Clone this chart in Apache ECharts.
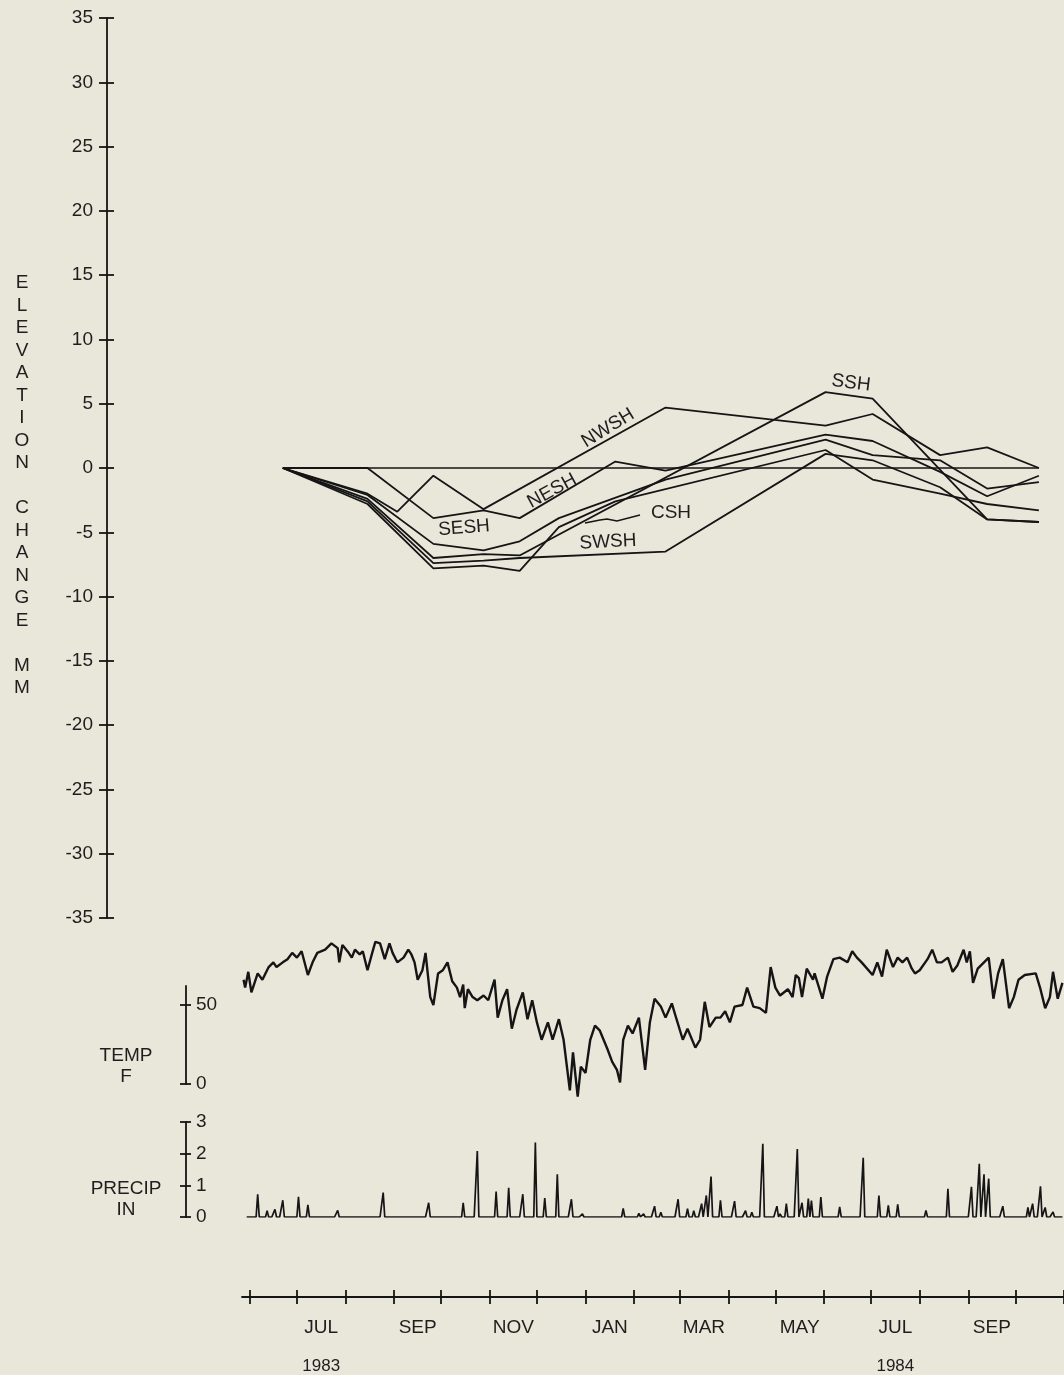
<!DOCTYPE html>
<html>
<head>
<meta charset="utf-8">
<title>Elevation change, temperature and precipitation 1983-1984</title>
<script src="https://cdn.jsdelivr.net/npm/echarts@6/dist/echarts.min.js"></script>
<style>
  html, body { margin: 0; padding: 0; background: #e9e6da; }
  #chart { width: 1064px; height: 1375px; }
  #err { position: absolute; left: 300px; top: 40px; width: 700px; font: 11px monospace; color: #a00; white-space: pre-wrap; }
</style>
</head>
<body>
<div id="chart"></div>
<div id="err"></div>
<script>
  // ---- data -------------------------------------------------------------
  // survey dates of the elevation profiles (mm change from first survey)
  var surveyDates = ['1983-06-22', '1983-08-15', '1983-09-03', '1983-09-26', '1983-10-28', '1983-11-20',
    '1983-12-15', '1984-01-20', '1984-02-21', '1984-06-02', '1984-07-02', '1984-08-14', '1984-09-13', '1984-10-16'];
  var nwsh = [0, -2.0, -3.4, -0.6, -3.2, null, null, null, 4.7, 3.3, 4.2, 1.0, 1.6, 0];
  var nesh = [0, 0, null, -3.9, -3.3, -3.9, null, 0.5, -0.2, 2.6, 2.1, -0.3, -2.2, -0.6];
  var sesh = [0, -2.1, null, -5.9, -6.4, -5.7, -3.9, null, -0.9, 2.2, 1.0, 0.6, -1.6, -1.1];
  var ssh = [0, -2.4, null, -7.0, -6.7, -6.8, null, null, null, 5.9, 5.4, null, -4.0, -4.2];
  var swsh = [0, -2.6, null, -7.4, -7.2, -7.0, null, null, -6.5, 1.1, 0.6, -1.5, -4.0, -4.2];
  var csh = [0, -2.8, null, -7.8, -7.6, -8.0, -4.6, -2.6, null, 1.4, -0.9, -2.0, -2.8, -3.3];

  // daily air temperature, days counted from 1983-06-01
  var tempDay = [-4, -3, -1, 1, 5, 8, 12, 15, 17, 21, 24, 27, 30, 33, 37, 40, 43, 48, 52, 56, 57, 59, 63, 65, 67, 70, 72,
    75, 78, 80, 83, 86, 89, 91, 94, 98, 101, 103, 105, 107, 110, 112, 115, 117, 120, 123, 126, 129, 132, 134, 136, 137,
    139, 142, 145, 149, 152, 156, 158, 161, 164, 167, 170, 174, 177, 180, 183, 186, 190, 193, 197, 200, 204, 206, 209,
    211, 214, 217, 220, 223, 228, 231, 234, 236, 238, 241, 244, 248, 252, 255, 258, 262, 265, 269, 272, 276, 279, 284,
    287, 290, 293, 297, 300, 303, 306, 309, 314, 317, 321, 325, 329, 332, 335, 338, 343, 346, 348, 350, 352, 355, 359,
    360, 365, 368, 372, 376, 381, 384, 387, 390, 397, 400, 403, 406, 410, 413, 416, 419, 422, 424, 427, 432, 435, 438,
    441, 445, 448, 451, 455, 457, 459, 461, 464, 468, 471, 474, 477, 480, 484, 487, 490, 494, 501, 504, 507, 510, 512,
    515, 518];
  var tempF = [66, 61, 71, 58, 70, 66, 74, 77, 74, 77, 79, 83, 80, 84, 69, 77, 83, 85, 89, 86, 77, 88, 83, 80, 85, 82, 84,
    72, 83, 90, 89, 79, 89, 83, 77, 80, 85, 82, 77, 66, 72, 83, 55, 50, 70, 72, 77, 65, 61, 55, 63, 48,
    60, 55, 53, 56, 53, 66, 42, 53, 60, 35, 47, 58, 41, 53, 39, 28, 39, 28, 41, 28, -4, 20, -8,
    11, 7, 28, 37, 34, 22, 14, 9, 1, 28, 37, 32, 42, 9, 39, 54, 49, 42, 51, 41, 28, 35, 23,
    28, 52, 36, 42, 42, 46, 39, 49, 50, 61, 49, 48, 45, 74, 61, 56, 60, 55, 69, 67, 55, 73, 66,
    70, 54, 68, 79, 80, 77, 84, 80, 77, 69, 77, 68, 85, 74, 80, 77, 80, 73, 70, 72, 79, 85, 77,
    77, 80, 71, 75, 85, 77, 84, 64, 73, 77, 80, 54, 70, 79, 48, 55, 66, 69, 70, 60, 48, 55, 71,
    54, 64];

  // daily precipitation (inches), only the days with rain
  var rainDay = [5, 11, 16, 21, 31, 37, 56, 68, 85, 114, 136, 145, 157, 165, 174, 182, 188, 196, 205, 212, 238, 248, 251,
    258, 262, 273, 279, 283, 288, 291, 294, 300, 309, 316, 320, 327, 336, 338, 342, 349, 352, 356, 358, 364, 376, 391,
    401, 407, 413, 431, 445, 460, 465, 468, 471, 480, 496, 499, 504, 507, 512];
  var rainIn = [0.72, 0.2, 0.24, 0.53, 0.64, 0.38, 0.21, 0.05, 0.77, 0.45, 0.45, 2.08, 0.8, 0.92, 0.72, 2.35, 0.6, 1.35,
    0.56, 0.1, 0.27, 0.12, 0.1, 0.34, 0.15, 0.56, 0.26, 0.2, 0.42, 0.68, 1.28, 0.53, 0.5, 0.2, 0.15, 2.31, 0.34, 0.1,
    0.42, 2.15, 0.45, 0.58, 0.52, 0.63, 0.32, 1.87, 0.68, 0.37, 0.4, 0.21, 0.89, 0.95, 1.68, 1.35, 1.21, 0.34, 0.3,
    0.42, 0.97, 0.3, 0.16];

  // time axis
  var monthStarts = ['1983-06-01', '1983-07-01', '1983-08-01', '1983-09-01', '1983-10-01', '1983-11-01', '1983-12-01',
    '1984-01-01', '1984-02-01', '1984-03-01', '1984-04-01', '1984-05-01', '1984-06-01', '1984-07-01', '1984-08-01',
    '1984-09-01', '1984-10-01', '1984-11-01'];
  var monthNames = ['', 'JUL', '', 'SEP', '', 'NOV', '', 'JAN', '', 'MAR', '', 'MAY', '', 'JUL', '', 'SEP', ''];
  var yearNames = ['', '1983', '', '', '', '', '', '', '', '', '', '', '', '1984', '', '', ''];

  var tempTicks = [0, 50];

  // ---- helpers ----------------------------------------------------------
  var DAY0 = Date.UTC(1983, 5, 1);
  function dayOf(s) {
    var p = s.split('-');
    return (Date.UTC(+p[0], +p[1] - 1, +p[2]) - DAY0) / 86400000;
  }
  var X_MIN = -5, X_MAX = 519;
  var INK = '#151515';
  var FONT = 'Liberation Sans, Arial, Helvetica, sans-serif';

  function profile(vals) {
    var res = [];
    for (var i = 0; i < surveyDates.length; i++) {
      if (vals[i] !== null) res.push([dayOf(surveyDates[i]), vals[i]]);
    }
    return res;
  }

  var tempData = tempDay.map(function (d, i) { return [d, tempF[i]]; });

  var rainData = [];
  var rainMap = {};
  rainDay.forEach(function (d, i) { rainMap[d] = rainIn[i]; });
  for (var d = -2; d <= 518; d++) {
    rainData.push([d, rainMap[d] || 0]);
  }

  var tickDays = monthStarts.map(dayOf);
  var labelDays = [];
  var labelText = {};
  for (var m = 0; m < monthNames.length; m++) {
    if (!monthNames[m]) continue;
    var mid = (tickDays[m] + tickDays[m + 1]) / 2;
    labelDays.push(mid);
    labelText[mid] = yearNames[m] ? '{m|' + monthNames[m] + '}\n{y|' + yearNames[m] + '}' : '{m|' + monthNames[m] + '}';
  }

  var off = { show: false };
  var offLine = { show: false, onZero: false };
  // twin axes carry the inner half of the crossing ticks; their line is kept but invisible
  var ghostLine = { show: true, onZero: false, lineStyle: { color: 'rgba(0,0,0,0)', width: 1 } };
  function hiddenX(grid) {
    return { type: 'value', gridIndex: grid, min: X_MIN, max: X_MAX, position: 'bottom',
      axisLine: offLine, axisTick: off, axisLabel: off, splitLine: off };
  }
  function tick(len, inside) {
    return { show: true, inside: inside, length: len, lineStyle: { color: INK, width: 1.8 } };
  }
  var line = { show: true, onZero: false, lineStyle: { color: INK, width: 1.8 } };

  // ---- chart ------------------------------------------------------------
  var chart = echarts.init(document.getElementById('chart'));

  function grid(top, height) {
    return { left: 242, width: 822, top: top, height: height, outerBoundsMode: 'none', containLabel: false };
  }

  var option = {
    backgroundColor: '#e9e6da',
    animation: false,
    textStyle: { fontFamily: FONT, color: '#1e1e1e' },
    grid: [
      grid(18, 900),        // elevation
      grid(933.9, 173.8),   // temperature data (-15..95)
      grid(986, 98),        // temperature axis (0..62)
      grid(1122, 95),       // precipitation
      grid(1250, 47)        // time axis
    ],
    xAxis: [
      hiddenX(0), hiddenX(1), hiddenX(2), hiddenX(3),
      {
        type: 'value', gridIndex: 4, min: X_MIN, max: X_MAX, position: 'bottom',
        splitLine: off, axisLine: line,
        axisTick: { show: true, length: 7, customValues: tickDays, lineStyle: { color: INK, width: 1.8 } },
        axisLabel: {
          show: true, margin: 21, customValues: labelDays,
          formatter: function (v) { return labelText[v] || ''; },
          rich: {
            m: { fontSize: 19, lineHeight: 20, color: '#1e1e1e', fontFamily: FONT },
            y: { fontSize: 17, lineHeight: 56, color: '#1e1e1e', fontFamily: FONT }
          }
        }
      },
      {
        type: 'value', gridIndex: 4, min: X_MIN, max: X_MAX, position: 'bottom',
        splitLine: off, axisLine: ghostLine, axisLabel: off,
        axisTick: { show: true, inside: true, length: 7, customValues: tickDays, lineStyle: { color: INK, width: 1.8 } }
      }
    ],
    yAxis: [
      {
        type: 'value', gridIndex: 0, position: 'left', min: -35, max: 35, interval: 5, offset: 135,
        splitLine: off, axisLine: line, axisTick: tick(8, false),
        axisLabel: { margin: 14, fontSize: 19, color: '#1e1e1e' }
      },
      {
        type: 'value', gridIndex: 0, position: 'left', min: -35, max: 35, interval: 5, offset: 135,
        splitLine: off, axisLine: ghostLine, axisLabel: off, axisTick: tick(7, true)
      },
      { type: 'value', gridIndex: 1, position: 'left', min: -15, max: 95, splitLine: off, axisLine: offLine, axisTick: off, axisLabel: off },
      {
        type: 'value', gridIndex: 2, position: 'left', min: 0, max: 62, offset: 56,
        splitLine: off, axisLine: line,
        axisTick: { show: true, length: 6, customValues: tempTicks, lineStyle: { color: INK, width: 1.8 } },
        axisLabel: { inside: true, margin: 10, fontSize: 19, color: '#1e1e1e', customValues: tempTicks }
      },
      {
        type: 'value', gridIndex: 2, position: 'left', min: 0, max: 62, offset: 56,
        splitLine: off, axisLine: ghostLine, axisLabel: off,
        axisTick: { show: true, inside: true, length: 5, customValues: tempTicks, lineStyle: { color: INK, width: 1.8 } }
      },
      {
        type: 'value', gridIndex: 3, position: 'left', min: 0, max: 3, interval: 1, offset: 56,
        splitLine: off, axisLine: line, axisTick: tick(6, false),
        axisLabel: { inside: true, margin: 10, fontSize: 19, color: '#1e1e1e' }
      },
      {
        type: 'value', gridIndex: 3, position: 'left', min: 0, max: 3, interval: 1, offset: 56,
        splitLine: off, axisLine: ghostLine, axisLabel: off, axisTick: tick(5, true)
      },
      // the time-axis grid needs a y axis of its own
      { type: 'value', gridIndex: 4, position: 'left', min: 0, max: 1, splitLine: off, axisLine: offLine, axisTick: off, axisLabel: off }
    ],
    series: []
  };

  var profiles = [['NWSH', nwsh], ['NESH', nesh], ['SESH', sesh], ['SSH', ssh], ['SWSH', swsh], ['CSH', csh]];
  option.series.push({
    name: 'zero', type: 'line', xAxisIndex: 0, yAxisIndex: 0, symbol: 'none',
    lineStyle: { color: INK, width: 1.6 },
    data: [[dayOf(surveyDates[0]), 0], [dayOf(surveyDates[surveyDates.length - 1]), 0]]
  });
  profiles.forEach(function (p) {
    option.series.push({
      name: p[0], type: 'line', xAxisIndex: 0, yAxisIndex: 0, symbol: 'none',
      lineStyle: { color: INK, width: 1.8 },
      data: profile(p[1])
    });
  });
  option.series.push({
    name: 'TEMP', type: 'line', xAxisIndex: 1, yAxisIndex: 2, symbol: 'none',
    lineStyle: { color: INK, width: 2.4 }, data: tempData
  });
  option.series.push({
    name: 'PRECIP', type: 'line', xAxisIndex: 3, yAxisIndex: 5, symbol: 'none',
    lineStyle: { color: INK, width: 1.7 }, data: rainData
  });

  var labelFont = '19px ' + FONT;
  function txt(text, x, y, rot, extra) {
    var st = { text: text, font: labelFont, fill: '#1e1e1e', align: 'center', verticalAlign: 'middle' };
    for (var k in extra) st[k] = extra[k];
    return { type: 'text', x: x, y: y, rotation: rot || 0, style: st, z: 10 };
  }

  option.graphic = { elements: [
    txt('E\nL\nE\nV\nA\nT\nI\nO\nN\n\nC\nH\nA\nN\nG\nE\n\nM\nM', 22, 272, 0, { verticalAlign: 'top', lineHeight: 22.5 }),
    txt('TEMP\nF', 126, 1066, 0, { lineHeight: 21 }),
    txt('PRECIP\nIN', 126, 1199, 0, { lineHeight: 21 }),
    txt('NWSH', 608, 428, 0.55),
    txt('NESH', 552, 491, 0.5),
    txt('SESH', 464, 528, 0.08),
    txt('SWSH', 608, 542, 0.05),
    txt('CSH', 671, 513, 0),
    txt('SSH', 851, 383, -0.12),
    {
      type: 'polyline', z: 10,
      shape: { points: [[585, 523], [600, 520], [607, 519], [617, 521], [640, 515]] },
      style: { stroke: INK, lineWidth: 1.5, fill: null }
    }
  ] };

  try {
    chart.setOption(option);
  } catch (e) {
    document.getElementById('err').textContent = String(e && e.stack || e);
  }
</script>
</body>
</html>
